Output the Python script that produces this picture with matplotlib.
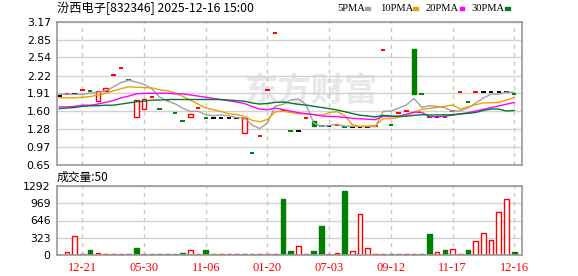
import numpy as np
import pandas as pd
import matplotlib
matplotlib.use('Agg')
import matplotlib.pyplot as plt
from matplotlib.patches import Rectangle

plt.rcParams['font.family'] = ['DejaVu Sans']

title = '汾西电子[832346] 2025-12-16 15:00'
ma_names = ['5PMA', '10PMA', '20PMA', '30PMA']
ma_colors = ['#a0a0a0', '#f0a000', '#ff00ff', '#007a2e']

# bars, oldest first
opens = [1.86, 1.89, 1.89, 1.96, 1.95, 1.77, 1.95, 2.23, 2.35, 2.15,
         1.50, 1.64, 1.84, 1.63, 1.79, 1.56, 1.42, 1.49, 1.65, 1.48,
         1.48, 1.48, 1.48, 1.48, 1.22, 0.86, 1.16, 1.97, 2.96, 1.62,
         1.25, 1.25, 1.47, 1.42, 1.33, 1.33, 1.35, 1.32, 1.32, 1.32,
         1.32, 1.33, 2.67, 1.35, 1.57, 1.60, 2.69, 1.89, 1.50, 1.50,
         1.49, 1.59, 1.93, 1.75, 1.93, 1.93, 1.93, 1.93, 1.93, 1.90]
closes = [1.86, 1.89, 1.89, 1.96, 1.95, 1.95, 2.01, 2.23, 2.35, 2.15,
          1.79, 1.81, 1.84, 1.63, 1.79, 1.56, 1.42, 1.55, 1.65, 1.48,
          1.48, 1.48, 1.48, 1.48, 1.47, 0.86, 1.16, 1.97, 2.96, 1.62,
          1.25, 1.25, 1.47, 1.34, 1.33, 1.33, 1.35, 1.32, 1.32, 1.32,
          1.32, 1.33, 2.67, 1.35, 1.57, 1.60, 1.90, 1.89, 1.50, 1.50,
          1.49, 1.59, 1.93, 1.75, 1.93, 1.93, 1.93, 1.93, 1.93, 1.90]
volumes = [0, 50, 355, 15, 88, 37, 15, 15, 15, 15,
           131, 15, 15, 15, 15, 15, 40, 88, 15, 88,
           15, 15, 15, 15, 15, 15, 15, 15, 15, 1048,
           75, 168, 15, 75, 542, 15, 37, 1198, 70, 762,
           125, 15, 15, 15, 15, 15, 15, 15, 393, 50,
           94, 112, 15, 94, 256, 406, 281, 800, 1043, 50]
prev_close = 1.86

# moving averages before a full window is on screen
ma5_lead = [1.89, 1.89, 1.89, 1.89]
ma10_lead = [1.83, 1.83, 1.83, 1.84, 1.85, 1.88, 1.91, 1.95, 1.99]
ma20_lead = [1.67, 1.67, 1.68, 1.70, 1.70, 1.72, 1.75, 1.78, 1.83, 1.86,
             1.90, 1.91, 1.91, 1.91, 1.91, 1.90, 1.90, 1.88, 1.86]
ma30_lead = [1.64, 1.65, 1.66, 1.68, 1.69, 1.69, 1.70, 1.70, 1.72, 1.74,
             1.76, 1.77, 1.79, 1.79, 1.80, 1.80, 1.80, 1.80, 1.80, 1.80,
             1.80, 1.80, 1.79, 1.78, 1.77, 1.74, 1.72, 1.73, 1.75]

tick_idx = [3, 11, 19, 27, 35, 43, 51, 59]
tick_labels = ['12-21', '05-30', '11-06', '01-20', '07-03', '09-12', '11-17', '12-16']
price_ticks = [0.65, 0.97, 1.28, 1.60, 1.91, 2.22, 2.54, 2.85, 3.17]
vol_ticks = [0, 323, 646, 969, 1292]

RED = '#ff0000'
GREEN = '#008000'

n = len(closes)
x = np.arange(n)
o = np.array(opens)
c = np.array(closes)
prev = np.concatenate([[prev_close], c[:-1]])

s = pd.Series(closes)
def moving_avg(win, lead):
    m = s.rolling(win).mean().to_numpy()
    m[:len(lead)] = lead
    return m
mas = [moving_avg(5, ma5_lead), moving_avg(10, ma10_lead),
       moving_avg(20, ma20_lead), moving_avg(30, ma30_lead)]

W, H = 578, 276
fig = plt.figure(figsize=(W / 100, H / 100), dpi=100)

def px_axes(l, t, r, b):
    return fig.add_axes([l / W, 1 - b / H, (r - l) / W, (b - t) / H])

ax = px_axes(57, 21.5, 522.3, 165)
axv = px_axes(57, 186, 522.3, 255)

for a in (ax, axv):
    a.set_xlim(-0.3, 60.05)
    for sp in a.spines.values():
        sp.set_color('#9a9a9a')
        sp.set_linewidth(1.2)
    a.tick_params(length=0, labelsize=7.8, pad=4.5)
    a.set_xticks(tick_idx)
    a.set_axisbelow(True)
    a.grid(axis='y', color='#d2d2d2', lw=1, ls='-')
    a.grid(axis='x', color='#c8c8c8', lw=1, ls=(0, (3, 3)))

# price panel
ax.set_ylim(price_ticks[0], price_ticks[-1])
ax.set_yticks(price_ticks)
ax.set_yticklabels(['%.2f' % v for v in price_ticks])
ax.set_xticklabels([])

ax.text(0.545, 0.51, '东方财富', transform=ax.transAxes, fontsize=24,
        color='#e8e8ec', ha='center', va='center', fontweight='bold',
        family=['Noto Sans CJK SC', 'DejaVu Sans'], zorder=0.1)

bw = 0.58
up = c > o
dn = c < o
flat = c == o
ax.bar(x[up], (c - o)[up], bottom=o[up], width=bw, facecolor='white',
       edgecolor=RED, lw=1, zorder=2)
ax.bar(x[dn], (o - c)[dn], bottom=c[dn], width=bw, facecolor=GREEN,
       edgecolor=GREEN, lw=1, zorder=2)
flat_cols = np.where(c > prev, RED, np.where(c < prev, GREEN, 'black'))
ax.hlines(c[flat], x[flat] - bw / 2, x[flat] + bw / 2,
          colors=flat_cols[flat], lw=1.4, zorder=2)

for m, col in zip(mas, ma_colors):
    ax.plot(x, m, color=col, lw=1, zorder=3)

# volume panel
v = np.array(volumes)
vup = c >= prev
axv.set_ylim(vol_ticks[0], vol_ticks[-1])
axv.set_yticks(vol_ticks)
axv.bar(x[vup], v[vup], width=0.6, facecolor='white', edgecolor=RED, lw=1, zorder=2)
axv.bar(x[~vup], v[~vup], width=0.6, facecolor=GREEN, edgecolor=GREEN, lw=1, zorder=2)
axv.set_xticklabels(tick_labels, color=RED, fontsize=9, family='Liberation Serif')
axv.tick_params(axis='x', pad=5)

# header texts
fig.text(57 / W, 1 - 8.5 / H, title, va='center', ha='left', fontsize=8.8,
         family=['Noto Sans CJK SC', 'DejaVu Sans'])
fig.text(57 / W, 1 - 177.5 / H, '成交量:%d' % volumes[-1], va='center', ha='left',
         fontsize=8.5, family=['Noto Sans CJK SC', 'DejaVu Sans'])

leg_x = [337.5, 380.5, 425.5, 471]
mark_x = [365.3, 413, 459.7, 505.3]
for name, col, tx, mx in zip(ma_names, ma_colors, leg_x, mark_x):
    fig.text(tx / W, 1 - 8.5 / H, name, va='center', ha='left', fontsize=7.6,
             family='Liberation Serif')
    fig.add_artist(Rectangle((mx / W, 1 - 10 / H), 4.5 / W, 3 / H,
                             transform=fig.transFigure, color=col))

fig.savefig('out.png', dpi=100)
